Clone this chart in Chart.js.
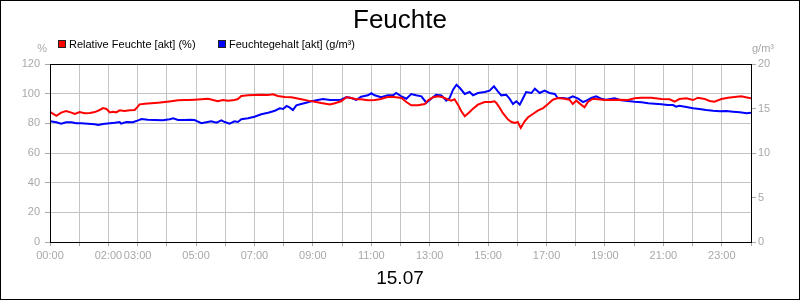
<!DOCTYPE html>
<html>
<head>
<meta charset="utf-8">
<script src="https://cdn.jsdelivr.net/npm/chart.js@4.4.1/dist/chart.umd.min.js"></script>
<style>
  body { margin: 0; background: #fff; }
  #wrap { width: 800px; height: 300px; }
</style>
</head>
<body>
<div id="wrap"><canvas id="feuchteChart" width="800" height="300"></canvas></div>
<script>
const chartTitle = "Feuchte"
const dateLabel = "15.07"
const leftUnit = "%"
const rightUnit = "g/m³"

// hours that get a label on the time axis
const labeledHours = [0, 2, 3, 5, 7, 9, 11, 13, 15, 17, 19, 21, 23]

// Relative Feuchte, minutes after midnight / %
const relTimes = [0,13,23,33,44,51,61,71,82,92,102,109,116,123,129,136,143,153,164,174,179,184,195,208,222,236,249,263,277,283,297,311,325,335,345,355,366,379,386,393,407,420,434,448,458,468,482,496,506,516,530,544,557,575,585,598,609,619,629,639,653,667,680,691,701,711,722,732,742,756,770,776,787,797,807,814,824,831,838,845,852,862,869,879,893,906,913,917,924,930,941,948,955,961,967,975,982,992,1002,1013,1023,1033,1043,1057,1067,1074,1081,1091,1098,1105,1115,1126,1139,1150,1167,1187,1201,1215,1235,1256,1273,1283,1293,1307,1321,1331,1345,1355,1365,1379,1393,1406,1420,1434,1440]
const relValues = [87.8,85.1,87.2,88.3,87.2,86.3,87.6,86.8,87.0,87.6,89.0,90.3,89.7,87.4,87.8,87.4,88.8,88.3,88.8,89.0,90.8,92.8,93.2,93.5,93.9,94.4,94.9,95.5,95.7,95.7,95.9,96.2,96.6,95.7,94.9,95.7,95.3,95.7,96.4,98.4,98.9,99.1,99.3,99.1,99.6,98.4,97.8,97.6,96.9,96.2,95.3,94.6,93.7,92.7,93.5,94.9,97.6,97.1,96.2,96.2,95.5,95.7,96.4,97.6,98.0,97.6,97.1,94.4,92.2,92.2,93.0,95.3,97.6,98.2,97.6,96.6,95.3,96.2,92.6,88.1,84.7,87.6,89.9,92.6,94.4,94.4,94.9,93.7,90.3,87.0,82.5,80.9,80.2,80.9,76.9,81.4,84.1,86.3,88.5,90.3,93.0,95.9,97.1,96.6,95.9,93.0,95.3,92.6,90.8,94.4,96.6,96.2,95.7,95.7,95.9,95.7,96.9,97.3,97.3,96.4,96.2,94.6,96.4,96.9,95.7,97.3,96.4,95.1,94.6,96.4,97.3,97.8,98.2,97.3,96.9]

// Feuchtegehalt, minutes after midnight / g/m³
const absTimes = [0,13,23,33,44,54,64,78,92,99,109,123,133,143,146,157,170,181,188,201,215,232,246,253,263,277,287,297,304,311,321,331,342,352,359,369,379,386,393,407,420,434,448,462,472,479,486,492,499,506,516,526,537,550,561,575,585,598,609,619,629,639,653,660,667,680,694,705,711,722,732,742,752,763,773,783,793,804,814,821,828,835,842,852,862,869,879,893,903,912,920,927,937,944,951,958,965,972,978,989,996,1006,1016,1026,1037,1043,1054,1064,1074,1085,1095,1102,1112,1122,1132,1142,1160,1173,1187,1201,1215,1229,1242,1256,1269,1280,1286,1293,1307,1321,1334,1348,1362,1376,1389,1403,1417,1431,1440]
const absValues = [13.56,13.45,13.29,13.45,13.45,13.34,13.34,13.29,13.22,13.15,13.26,13.34,13.40,13.48,13.29,13.48,13.45,13.67,13.82,13.74,13.71,13.67,13.79,13.90,13.71,13.71,13.74,13.71,13.52,13.34,13.45,13.56,13.40,13.67,13.48,13.29,13.56,13.48,13.79,13.90,14.08,14.35,14.53,14.75,15.02,14.94,15.28,15.13,14.83,15.36,15.51,15.65,15.81,15.96,16.07,15.96,15.96,15.99,16.29,16.18,15.96,16.33,16.48,16.71,16.48,16.26,16.48,16.48,16.74,16.37,16.10,16.63,16.48,16.37,15.65,16.10,16.55,16.48,15.88,16.18,17.11,17.67,17.30,16.63,16.85,16.48,16.74,16.85,17.00,17.49,16.93,16.48,16.55,16.10,15.51,15.81,15.43,16.18,16.85,16.74,17.22,16.74,17.00,16.74,16.63,16.18,16.18,16.10,16.37,16.10,15.73,15.88,16.18,16.37,16.10,15.99,16.15,15.92,15.84,15.76,15.70,15.58,15.54,15.47,15.39,15.39,15.20,15.31,15.17,15.02,14.94,14.83,14.75,14.69,14.72,14.64,14.57,14.46,14.53]

const FONT = "'Liberation Sans', Arial, sans-serif"
const tickGrey = "#a8a8a8"
const gridGrey = "#c4c4c4"

function pairs(xs, ys) {
	return xs.map((x, i) => ({ x: x, y: ys[i] }))
}

// title, legend, unit labels, frame
const decor = {
	id: "decor",
	afterDraw(chart) {
		const ctx = chart.ctx
		const a = chart.chartArea
		ctx.save()

		ctx.strokeStyle = "#000"
		ctx.lineWidth = 1
		ctx.strokeRect(0.5, 0.5, chart.width - 1, chart.height - 1)
		ctx.strokeRect(a.left + 0.5, a.top + 0.5, a.right - a.left, a.bottom - a.top)

		ctx.fillStyle = "#000"
		ctx.textAlign = "center"
		ctx.textBaseline = "alphabetic"
		ctx.font = "26px " + FONT
		ctx.fillText(chartTitle, 400, 28)
		ctx.font = "19px " + FONT
		ctx.fillText(dateLabel, 400, 284)

		// legend
		ctx.font = "11px " + FONT
		ctx.textAlign = "left"
		ctx.textBaseline = "middle"
		let lx = 58
		chart.data.datasets.forEach(ds => {
			ctx.fillStyle = ds.borderColor
			ctx.fillRect(lx, 40, 8, 8)
			ctx.strokeStyle = "#222"
			ctx.strokeRect(lx + 0.5, 40.5, 7, 7)
			ctx.fillStyle = "#000"
			ctx.fillText(ds.label, lx + 11, 44.5)
			lx += 160
		})

		// units
		ctx.fillStyle = tickGrey
		ctx.textAlign = "right"
		ctx.fillText(leftUnit, 47, 49)
		ctx.textAlign = "left"
		ctx.fillText(rightUnit, 752, 49)
		ctx.restore()
	}
}

const ctx = document.getElementById("feuchteChart").getContext("2d")
new Chart(ctx, {
	type: "line",
	data: {
		datasets: [
			{
				label: "Relative Feuchte [akt] (%)",
				data: pairs(relTimes, relValues),
				borderColor: "#ff0000",
				borderWidth: 2,
				pointRadius: 0,
				tension: 0,
				yAxisID: "y",
			},
			{
				label: "Feuchtegehalt [akt] (g/m³)",
				data: pairs(absTimes, absValues),
				borderColor: "#0000ff",
				borderWidth: 2,
				pointRadius: 0,
				tension: 0,
				yAxisID: "y1",
			},
		],
	},
	options: {
		responsive: false,
		animation: false,
		layout: { padding: { top: 64, left: 0, right: 0, bottom: 0 } },
		plugins: {
			legend: { display: false },
			title: { display: false },
			tooltip: { enabled: false },
		},
		scales: {
			x: {
				type: "linear",
				min: 0,
				max: 1440,
				afterFit: s => { s.height = 58 },
				border: { color: "#000", width: 1 },
				grid: { color: gridGrey, tickColor: tickGrey, tickLength: 4 },
				ticks: {
					stepSize: 60,
					autoSkip: false,
					maxRotation: 0,
					padding: 3,
					color: tickGrey,
					font: { family: FONT, size: 11 },
					callback: v => {
						const h = v / 60
						return labeledHours.includes(h) ? String(h).padStart(2, "0") + ":00" : ""
					},
				},
			},
			y: {
				position: "left",
				min: 0,
				max: 120,
				afterFit: s => { s.width = 50 },
				border: { color: "#000", width: 1 },
				grid: { color: gridGrey, tickColor: tickGrey, tickLength: 5 },
				ticks: {
					stepSize: 20,
					padding: 5,
					color: tickGrey,
					font: { family: FONT, size: 11 },
				},
			},
			y1: {
				position: "right",
				min: 0,
				max: 20,
				afterFit: s => { s.width = 49 },
				border: { color: "#000", width: 1 },
				grid: { drawOnChartArea: false, tickColor: tickGrey, tickLength: 5 },
				ticks: {
					stepSize: 5,
					padding: 2,
					color: tickGrey,
					font: { family: FONT, size: 11 },
				},
			},
		},
	},
	plugins: [decor],
})
</script>
</body>
</html>
